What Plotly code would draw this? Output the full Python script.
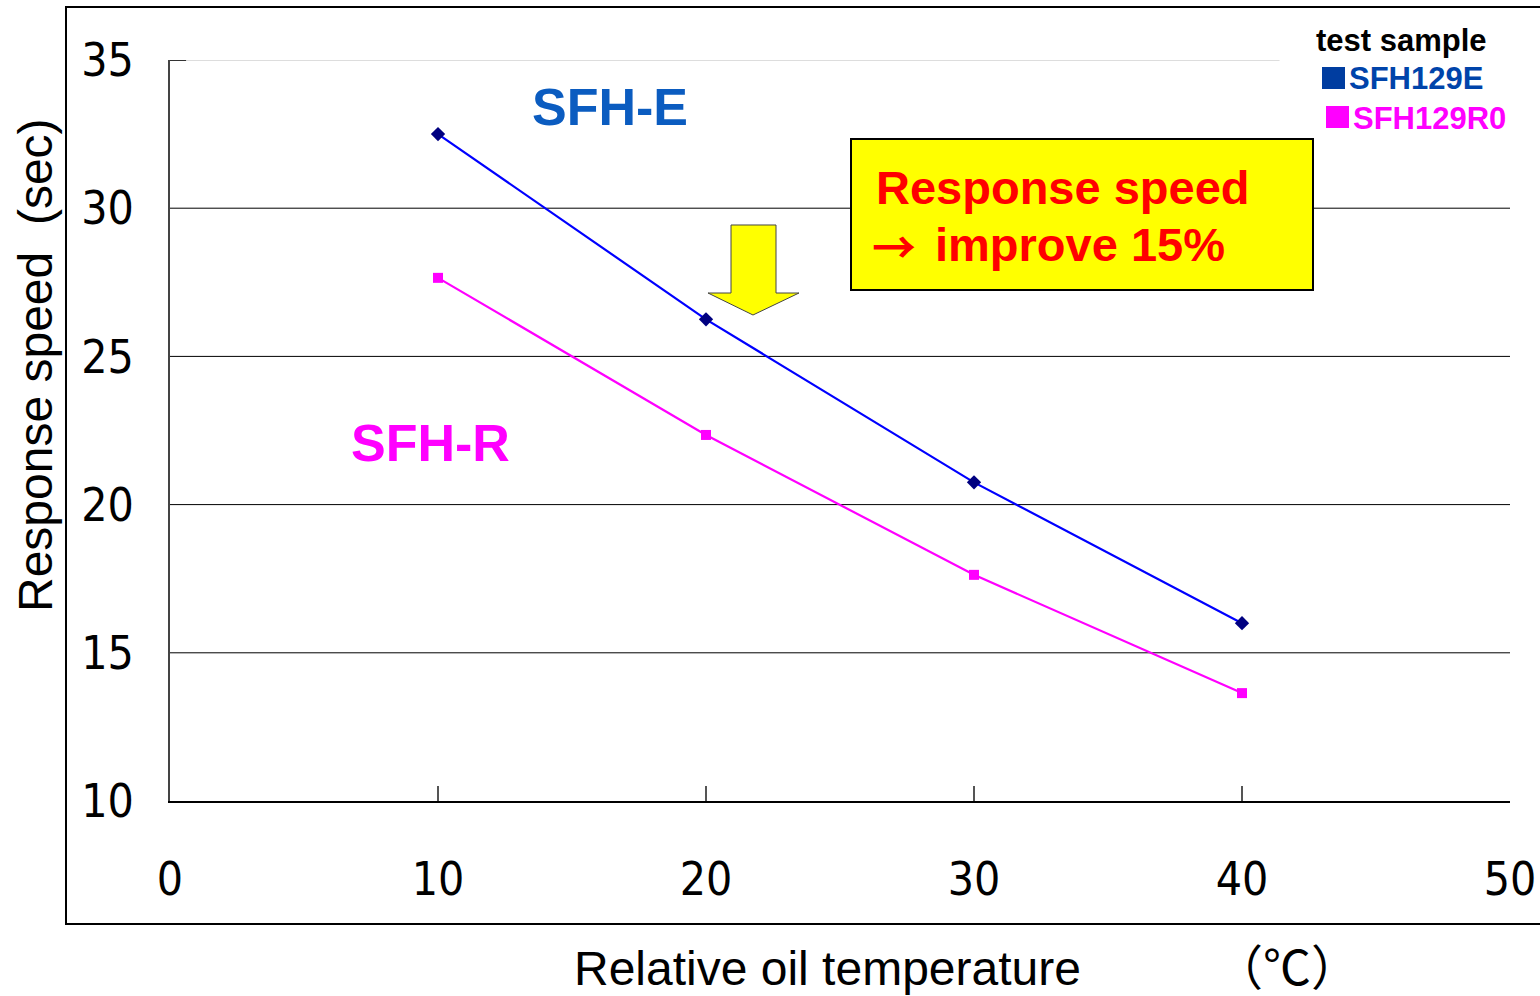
import plotly.graph_objects as go

W, H = 1540, 996

temps = [10, 20, 30, 40]
sfh129e = [32.5, 26.25, 20.75, 16.0]
sfh129r0 = [27.65, 22.35, 17.63, 13.64]
x_ticks = [0, 10, 20, 30, 40, 50]
y_ticks = [10, 15, 20, 25, 30, 35]

def px(x):
    return x / W

def py(y):
    return 1 - y / H

TICKFONT = dict(family="Liberation Sans Narrow, DejaVu Sans Condensed, Arial", size=46, color="black")

fig = go.Figure()
fig.add_trace(go.Scatter(x=temps, y=sfh129e, mode="lines+markers", name="SFH129E",
                         line=dict(color="#0000FF", width=2.2),
                         marker=dict(symbol="diamond", size=11, color="#000080")))
fig.add_trace(go.Scatter(x=temps, y=sfh129r0, mode="lines+markers", name="SFH129R0",
                         line=dict(color="#FF00FF", width=2.2),
                         marker=dict(symbol="square", size=10, color="#FF00FF")))

fig.update_layout(
    width=W, height=H,
    margin=dict(l=0, r=0, t=0, b=0, autoexpand=False),
    paper_bgcolor="white", plot_bgcolor="white",
    showlegend=False,
    xaxis=dict(domain=[px(170), px(1510)], range=[0, 50], tickvals=x_ticks, automargin=False,
               ticks="inside", ticklen=15, tickcolor="#555", tickwidth=2,
               showgrid=False, zeroline=False, showline=True, linecolor="black", linewidth=2,
               tickfont=TICKFONT, ticklabelstandoff=37),
    yaxis=dict(domain=[py(801), py(60)], range=[10, 35], tickvals=y_ticks, automargin=False,
               ticks="", showgrid=False, zeroline=False, showline=True,
               linecolor="#444", linewidth=2,
               tickfont=TICKFONT, ticklabelstandoff=25),
)

# horizontal grid lines
for v in [15, 20, 25, 30]:
    fig.add_shape(type="line", xref="x", yref="y", x0=0, x1=50, y0=v, y1=v,
                  line=dict(color="black", width=1), layer="below")
fig.add_shape(type="line", xref="x", yref="y", x0=0, x1=41.4, y0=35, y1=35,
              line=dict(color="#DDDDDD", width=2), layer="below")
fig.add_shape(type="line", xref="x", yref="y", x0=0, x1=0.6, y0=35, y1=35,
              line=dict(color="#333", width=2))

# outer frame
fig.add_shape(type="rect", xref="paper", yref="paper", x0=px(66), x1=1.02, y0=py(924), y1=py(7),
              line=dict(color="black", width=2), fillcolor="rgba(0,0,0,0)", layer="below")

# yellow box
fig.add_shape(type="rect", xref="paper", yref="paper", x0=px(851), x1=px(1313), y0=py(290), y1=py(139),
              line=dict(color="black", width=2), fillcolor="#FFFF00")

# yellow arrow
pts = [(731, 225), (776, 225), (776, 293), (799, 293), (753, 315), (708, 293), (731, 293)]
path = "M " + " L ".join(f"{px(a):.5f},{py(b):.5f}" for a, b in pts) + " Z"
fig.add_shape(type="path", xref="paper", yref="paper", path=path,
              fillcolor="#FFFF00", line=dict(color="#444", width=1))

# legend squares
fig.add_shape(type="rect", xref="paper", yref="paper", x0=px(1322), x1=px(1345), y0=py(89), y1=py(67),
              fillcolor="#003DA0", line=dict(width=0))
fig.add_shape(type="rect", xref="paper", yref="paper", x0=px(1326), x1=px(1349), y0=py(128), y1=py(106),
              fillcolor="#FF00FF", line=dict(width=0))

BOLD = "Liberation Sans, Arial"
ann = [
    dict(text="<b>SFH-E</b>", x=px(610), y=py(107), font=dict(family=BOLD, size=52, color="#0B5CC0")),
    dict(text="<b>SFH-R</b>", x=px(430), y=py(443), font=dict(family=BOLD, size=52, color="#FF00FF")),
    dict(text="<b>Response speed</b>", x=px(874), y=py(187), xanchor="left",
         font=dict(family=BOLD, size=47, color="#FF0000")),
    dict(text="<b>→</b>", x=px(870), y=py(245), xanchor="left",
         font=dict(family="Noto Sans CJK JP", size=44, color="#FF0000")),
    dict(text="<b>improve 15%</b>", x=px(933), y=py(245), xanchor="left",
         font=dict(family=BOLD, size=47, color="#FF0000")),
    dict(text="<b>test sample</b>", x=px(1401), y=py(40), font=dict(family=BOLD, size=31, color="black")),
    dict(text="<b>SFH129E</b>", x=px(1347), y=py(79), xanchor="left", font=dict(family=BOLD, size=31, color="#0044AA")),
    dict(text="<b>SFH129R0</b>", x=px(1351), y=py(118), xanchor="left", font=dict(family=BOLD, size=31, color="#FF00FF")),
    dict(text="Relative oil temperature", x=px(827), y=py(968), font=dict(family="Liberation Sans, Arial", size=48, color="black")),
    dict(text="（℃）", x=px(1287), y=py(968), font=dict(family="Liberation Sans, Noto Sans CJK JP", size=48, color="black")),
    dict(text="Response speed  (sec)", x=px(35), y=py(365), textangle=-90,
         font=dict(family="Liberation Sans, Arial", size=48, color="black")),
]
for a in ann:
    a.setdefault("xanchor", "center")
    fig.add_annotation(xref="paper", yref="paper", showarrow=False, yanchor="middle", **a)

fig.write_html("out.html")
